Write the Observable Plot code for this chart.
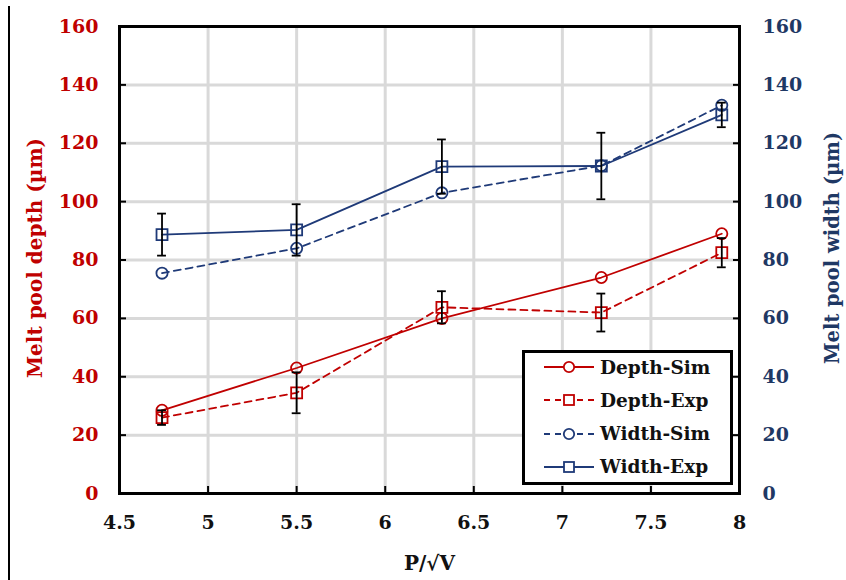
<!DOCTYPE html>
<html>
<head>
<meta charset="utf-8">
<script src="https://cdn.jsdelivr.net/npm/d3@7"></script>
<script src="https://cdn.jsdelivr.net/npm/@observablehq/plot@0.6"></script>
<style>
  html, body { margin: 0; padding: 0; background: white; }
  #wrap { position: relative; width: 846px; height: 580px; overflow: hidden; }
  #edge { position: absolute; left: 8px; top: 6px; width: 1.5px; height: 574px; background: #000; }
  #legend { position: absolute; left: 522px; top: 350px; width: 205px; height: 129px;
    border: 3px solid #000; background: #fff; font-family: "DejaVu Serif", serif;
    font-weight: bold; font-size: 18.5px; color: #111; }
  .row { position: absolute; left: 0; height: 24px; display: flex; align-items: center; }
  .row svg { margin-left: 19px; margin-right: 6px; }
</style>
</head>
<body>
<div id="wrap"><div id="edge"></div></div>
<script>
// ---- data ----
const xVals = [4.74, 5.5, 6.32, 7.22, 7.9];
const depthSim = [28.5, 43, 60, 74, 89];
const depthExp = [26, 34.5, 63.8, 62, 82.5];
const depthExpErr = [2.5, 7, 5.5, 6.5, 5];
const widthSim = [75.5, 84, 103, 112.3, 133];
const widthExp = [88.7, 90.3, 112, 112.2, 129.7];
const widthExpErr = [7.2, 8.8, 9.3, 11.4, 4.2];

const xTicks = [4.5, 5, 5.5, 6, 6.5, 7, 7.5, 8];
const yTicks = [0, 20, 40, 60, 80, 100, 120, 140, 160];

const seriesNames = ["Depth-Sim", "Depth-Exp", "Width-Sim", "Width-Exp"];
const xTitle = "P/\u221AV";
const yLeftTitle = "Melt pool depth (\u00B5m)";
const yRightTitle = "Melt pool width (\u00B5m)";

const RED = "#C00000";
const BLUE = "#1F3A78";
const BLUE_TEXT = "#1F3864";

const styles = {
  "Depth-Sim": {color: RED, dash: null, symbol: "circle"},
  "Depth-Exp": {color: RED, dash: "7,5", symbol: "square"},
  "Width-Sim": {color: BLUE, dash: "7,5", symbol: "circle"},
  "Width-Exp": {color: BLUE, dash: null, symbol: "square"}
};

const valuesBy = {"Depth-Sim": depthSim, "Depth-Exp": depthExp, "Width-Sim": widthSim, "Width-Exp": widthExp};
const table = seriesNames.map(name => xVals.map((x, i) => ({series: name, x, y: valuesBy[name][i]})));

const errRows = [
  ...xVals.map((x, i) => ({x, y: depthExp[i], e: depthExpErr[i]})),
  ...xVals.map((x, i) => ({x, y: widthExp[i], e: widthExpErr[i]}))
];
const capHalf = 0.025;

const seriesMarks = table.flatMap(rows => {
  const s = styles[rows[0].series];
  return [
    Plot.line(rows, {x: "x", y: "y", stroke: s.color, strokeWidth: 1.8, strokeDasharray: s.dash}),
    Plot.dot(rows, {x: "x", y: "y", stroke: s.color, strokeWidth: 1.8, fill: "none",
      symbol: s.symbol, r: s.symbol === "square" ? 6.2 : 5.6})
  ];
});

const fontBase = {fontFamily: "DejaVu Serif", fontWeight: "bold", textAnchor: "middle", lineAnchor: "middle"};

const chart = Plot.plot({
  width: 846, height: 580,
  marginLeft: 119, marginRight: 107, marginTop: 26, marginBottom: 87,
  x: {domain: [4.5, 8]},
  y: {domain: [0, 160]},
  style: {fontFamily: "DejaVu Serif", fontWeight: "bold", fontSize: "19px", background: "transparent", overflow: "visible"},
  marks: [
    Plot.gridX(xTicks, {stroke: "#d9d9d9", strokeWidth: 3, strokeOpacity: 1}),
    Plot.gridY(yTicks, {stroke: "#d9d9d9", strokeWidth: 3, strokeOpacity: 1}),
    ...seriesMarks,
    Plot.ruleX(errRows, {x: "x", y1: d => d.y - d.e, y2: d => d.y + d.e, stroke: "#000", strokeWidth: 1.8}),
    Plot.ruleY(errRows, {y: d => d.y - d.e, x1: d => d.x - capHalf, x2: d => d.x + capHalf, stroke: "#000", strokeWidth: 1.8}),
    Plot.ruleY(errRows, {y: d => d.y + d.e, x1: d => d.x - capHalf, x2: d => d.x + capHalf, stroke: "#000", strokeWidth: 1.8}),
    Plot.axisX(xTicks, {anchor: "bottom", tickSize: -7, tickPadding: 29, strokeWidth: 2, stroke: "#000",
      fill: "#111", label: null, tickFormat: d => String(d), fontSize: 19}),
    Plot.axisY(yTicks, {anchor: "left", tickSize: -7, tickPadding: 28, strokeWidth: 2, stroke: "#000",
      fill: RED, label: null, tickFormat: d => String(d), fontSize: 19}),
    Plot.axisY(yTicks, {anchor: "right", tickSize: -7, tickPadding: 30, strokeWidth: 2, stroke: "#000",
      fill: BLUE_TEXT, label: null, tickFormat: d => String(d), fontSize: 19}),
    Plot.frame({stroke: "#000", strokeWidth: 3}),
    Plot.text([xTitle], {frameAnchor: "bottom", dy: 70, fill: "#111", fontSize: 20, ...fontBase}),
    Plot.text([yLeftTitle], {frameAnchor: "left", dx: -84, dy: -2, rotate: -90, fill: RED, fontSize: 20, ...fontBase}),
    Plot.text([yRightTitle], {frameAnchor: "right", dx: 93, dy: -12, rotate: -90, fill: BLUE_TEXT, fontSize: 19.5, ...fontBase})
  ]
});

const wrap = document.getElementById("wrap");
wrap.appendChild(chart);

// legend (HTML overlay inside the plot frame)
const legend = document.createElement("div");
legend.id = "legend";
seriesNames.forEach((name, i) => {
  const s = styles[name];
  const row = document.createElement("div");
  row.className = "row";
  row.style.top = (2 + i * 33.3) + "px";
  const ns = "http://www.w3.org/2000/svg";
  const svg = document.createElementNS(ns, "svg");
  svg.setAttribute("width", 50); svg.setAttribute("height", 20);
  const ln = document.createElementNS(ns, "line");
  ln.setAttribute("x1", 0); ln.setAttribute("x2", 50); ln.setAttribute("y1", 10); ln.setAttribute("y2", 10);
  ln.setAttribute("stroke", s.color); ln.setAttribute("stroke-width", 1.8);
  if (s.dash) ln.setAttribute("stroke-dasharray", "6,5");
  svg.appendChild(ln);
  let m;
  if (s.symbol === "circle") {
    m = document.createElementNS(ns, "circle");
    m.setAttribute("cx", 25); m.setAttribute("cy", 10); m.setAttribute("r", 5.2);
  } else {
    m = document.createElementNS(ns, "rect");
    m.setAttribute("x", 20); m.setAttribute("y", 5); m.setAttribute("width", 10); m.setAttribute("height", 10);
  }
  m.setAttribute("fill", "#fff"); m.setAttribute("stroke", s.color); m.setAttribute("stroke-width", 1.8);
  svg.appendChild(m);
  const t = document.createElement("span");
  t.textContent = name;
  row.appendChild(svg); row.appendChild(t);
  legend.appendChild(row);
});
wrap.appendChild(legend);
</script>
</body>
</html>
